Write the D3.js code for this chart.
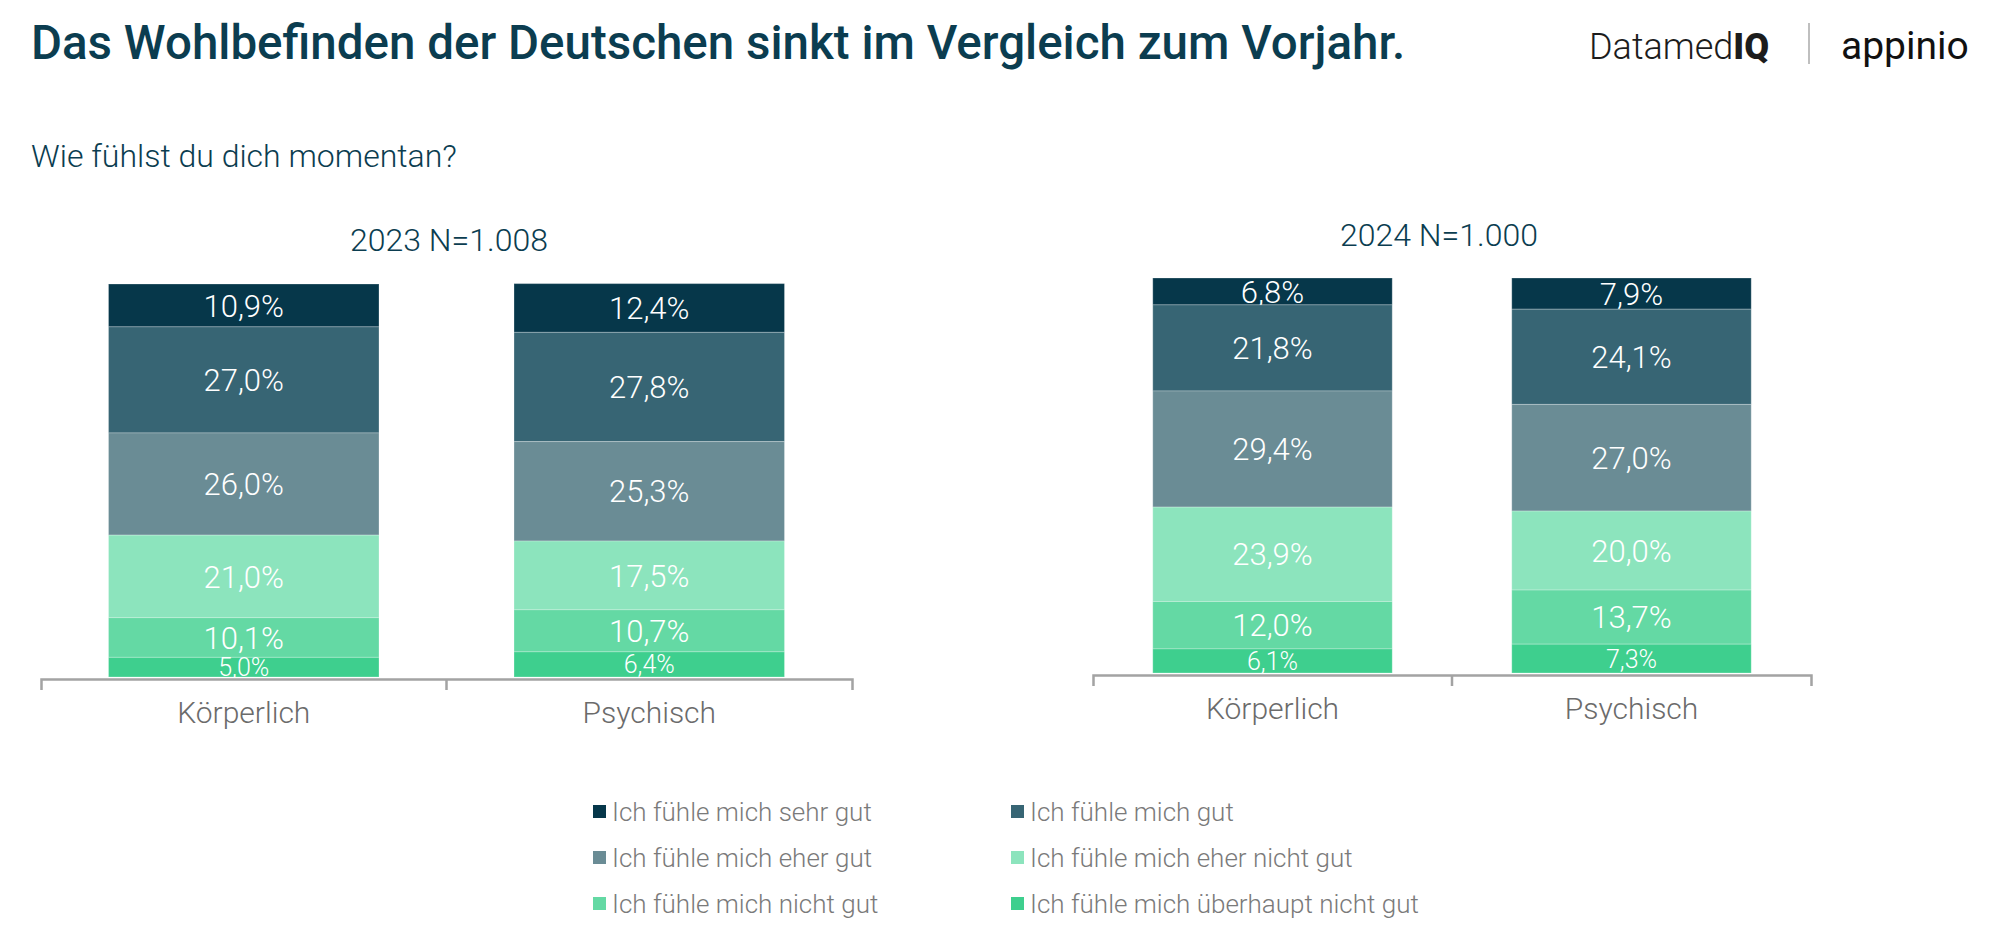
<!DOCTYPE html>
<html>
<head>
<meta charset="utf-8">
<script src="https://cdn.jsdelivr.net/npm/d3@7"></script>
<style>
  body { margin: 0; background: #fff; }
  svg { display: block; font-family: Roboto, "Noto Sans", sans-serif; }
</style>
</head>
<body>
<svg id="chart" width="2000" height="949"></svg>
<script>
// answers, top of stack first (as in legend)
var answers = ["Ich fühle mich sehr gut", "Ich fühle mich gut", "Ich fühle mich eher gut",
               "Ich fühle mich eher nicht gut", "Ich fühle mich nicht gut", "Ich fühle mich überhaupt nicht gut"]
var colors = ["#06374a", "#376574", "#6a8c95", "#8ce4bd", "#64d9a4", "#3ecf8e"]

var categories = ["Körperlich", "Psychisch"]
var years = ["2023 N=1.008", "2024 N=1.000"]

var values2023Koerperlich = [10.9, 27.0, 26.0, 21.0, 10.1, 5.0]
var values2023Psychisch   = [12.4, 27.8, 25.3, 17.5, 10.7, 6.4]
var values2024Koerperlich = [6.8, 21.8, 29.4, 23.9, 12.0, 6.1]
var values2024Psychisch   = [7.9, 24.1, 27.0, 20.0, 13.7, 7.3]

var panelValues = [[values2023Koerperlich, values2023Psychisch], [values2024Koerperlich, values2024Psychisch]]

var svg = d3.select("#chart")
var dark = "#0b3d50"

// title + subtitle
svg.append("text").attr("x", 31).attr("y", 59)
  .text("Das Wohlbefinden der Deutschen sinkt im Vergleich zum Vorjahr.")
  .style("font-size", "47.5px").style("font-weight", 500).style("fill", dark)

svg.append("text").attr("x", 31).attr("y", 167)
  .text("Wie fühlst du dich momentan?")
  .style("font-size", "32px").style("font-weight", 300).style("fill", dark)

// logos as text
var logo = svg.append("text").attr("x", 1589).attr("y", 59).style("fill", "#1c1c1c").style("font-size", "36px")
logo.append("tspan").text("Datamed").style("font-weight", 300)
logo.append("tspan").text("IQ").style("font-weight", 900)
svg.append("line").attr("x1", 1809).attr("x2", 1809).attr("y1", 23).attr("y2", 64)
  .style("stroke", "#aaa").style("stroke-width", 1.5)
svg.append("text").attr("x", 1841).attr("y", 59).text("appinio")
  .style("fill", "#111").style("font-size", "39px").style("font-weight", 400)

// panel layout
var panels = [
  {x0: 41, x1: 852, top: 284, bottom: 677, headX: 449, headY: 251},
  {x0: 1093, x1: 1811, top: 278, bottom: 673, headX: 1439, headY: 246}
]

var stack = d3.stack().keys(d3.range(answers.length)).order(d3.stackOrderReverse)

panels.forEach(function(p, pi){
  var g = svg.append("g")

  g.append("text").attr("x", p.headX).attr("y", p.headY).text(years[pi])
    .style("text-anchor", "middle").style("font-size", "32px").style("font-weight", 300).style("fill", dark)

  var x = d3.scaleBand().domain(categories).range([p.x0, p.x1]).padding(0)
  var y = d3.scaleLinear().domain([0, 100]).range([p.bottom, p.top])
  var barW = x.bandwidth() * 0.667

  var rows = categories.map(function(c, ci){
    var r = {cat: c}
    panelValues[pi][ci].forEach(function(v, k){ r[k] = v })
    return r
  })
  var series = stack(rows)

  var layers = g.selectAll("g.layer").data(series).enter().append("g")
    .attr("class", "layer").style("fill", function(d){ return colors[d.key] })

  layers.selectAll("rect").data(function(d){ return d }).enter().append("rect")
    .attr("x", function(d){ return x(d.data.cat) + (x.bandwidth() - barW) / 2 })
    .attr("width", barW)
    .attr("y", function(d){ return y(d[1]) })
    .attr("height", function(d){ return y(d[0]) - y(d[1]) })
    .style("stroke", "rgba(255,255,255,0.25)").style("stroke-width", 1)

  layers.selectAll("text").data(function(d){ return d.map(function(e){ e.key = d.key; return e }) }).enter().append("text")
    .attr("x", function(d){ return x(d.data.cat) + x.bandwidth() / 2 })
    .attr("y", function(d){ return (y(d[0]) + y(d[1])) / 2 })
    .attr("dy", "0.36em")
    .text(function(d){ return d3.format(".1f")(d.data[d.key]).replace(".", ",") + "%" })
    .style("text-anchor", "middle").style("fill", "#fff").style("font-weight", 300)
    .style("font-size", function(d){ return d.key == answers.length - 1 ? "25px" : "31px" })

  var axis = g.append("g").attr("transform", "translate(0," + (p.bottom + 2) + ")")
    .call(d3.axisBottom(x).tickSize(0).tickSizeOuter(11).tickPadding(23))
  axis.select(".domain").style("stroke", "#a3a3a3").style("stroke-width", 2.5)
  axis.selectAll("text").style("font-size", "30px").style("font-weight", 300).style("fill", "#6b6b6b")
    .style("font-family", "Roboto, sans-serif")
  axis.append("line").attr("x1", x(categories[1])).attr("x2", x(categories[1]))
    .attr("y1", 0).attr("y2", 11).style("stroke", "#a3a3a3").style("stroke-width", 2.5)
})

// legend, two columns
var legend = svg.append("g")
var legX = [593, 1011], legY = [812, 858, 904]
answers.forEach(function(a, i){
  var lx = legX[i % 2], ly = legY[Math.floor(i / 2)]
  legend.append("rect").attr("x", lx).attr("y", ly - 7).attr("width", 13).attr("height", 13).style("fill", colors[i])
  legend.append("text").attr("x", lx + 19).attr("y", ly).attr("dy", "0.35em").text(a)
    .style("font-size", "26px").style("font-weight", 300).style("fill", "#7a7a7a")
})
</script>
</body>
</html>
